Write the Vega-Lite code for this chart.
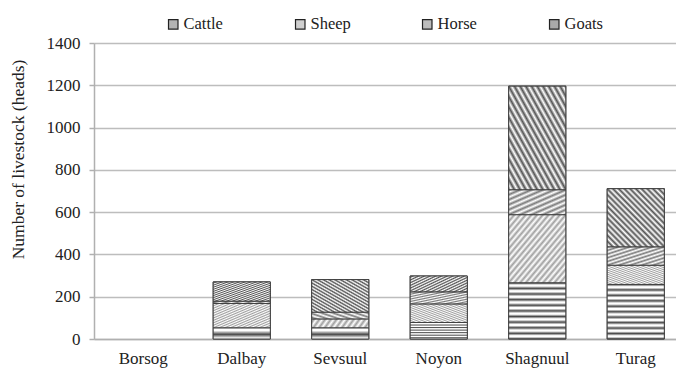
{
  "$schema": "https://vega.github.io/schema/vega-lite/v6.json",
  "width": 582,
  "height": 296,
  "autosize": "none",
  "padding": {"left": 94, "top": 43, "right": 0, "bottom": 32},
  "background": "white",
  "data": {
    "values": [
      {"village": "Dalbay", "animal": "Cattle", "heads": 53},
      {"village": "Dalbay", "animal": "Sheep", "heads": 115},
      {"village": "Dalbay", "animal": "Horse", "heads": 11},
      {"village": "Dalbay", "animal": "Goats", "heads": 91},
      {"village": "Sevsuul", "animal": "Cattle", "heads": 53},
      {"village": "Sevsuul", "animal": "Sheep", "heads": 42},
      {"village": "Sevsuul", "animal": "Horse", "heads": 32},
      {"village": "Sevsuul", "animal": "Goats", "heads": 154},
      {"village": "Noyon", "animal": "Cattle", "heads": 78},
      {"village": "Noyon", "animal": "Sheep", "heads": 88},
      {"village": "Noyon", "animal": "Horse", "heads": 57},
      {"village": "Noyon", "animal": "Goats", "heads": 75},
      {"village": "Shagnuul", "animal": "Cattle", "heads": 266},
      {"village": "Shagnuul", "animal": "Sheep", "heads": 322},
      {"village": "Shagnuul", "animal": "Horse", "heads": 118},
      {"village": "Shagnuul", "animal": "Goats", "heads": 490},
      {"village": "Turag", "animal": "Cattle", "heads": 258},
      {"village": "Turag", "animal": "Sheep", "heads": 91},
      {"village": "Turag", "animal": "Horse", "heads": 87},
      {"village": "Turag", "animal": "Goats", "heads": 275}
    ]
  },
  "transform": [
    {"calculate": "indexof(['Cattle','Sheep','Horse','Goats'], datum.animal)", "as": "stackRank"}
  ],
  "encoding": {
    "x": {
      "field": "village",
      "type": "nominal",
      "scale": {
        "domain": ["Borsog", "Dalbay", "Sevsuul", "Noyon", "Shagnuul", "Turag"],
        "range": [0, 591],
        "paddingInner": 0.42,
        "paddingOuter": 0.21
      },
      "axis": {
        "title": null,
        "labelAngle": 0,
        "ticks": false,
        "labelPadding": 11,
        "labelFont": "Liberation Serif",
        "labelFontSize": 17,
        "labelColor": "#222222",
        "domainColor": "#b0b0b0",
        "domainWidth": 1.5,
        "grid": false
      }
    },
    "y": {
      "field": "heads",
      "type": "quantitative",
      "aggregate": "sum",
      "stack": "zero",
      "scale": {"domain": [0, 1400], "nice": false},
      "axis": {
        "title": "Number of livestock (heads)",
        "values": [0, 200, 400, 600, 800, 1000, 1200, 1400],
        "format": "d",
        "titleFont": "Liberation Serif",
        "titleFontSize": 17.5,
        "titleFontWeight": "normal",
        "titleColor": "#222222",
        "titleAngle": 270,
        "titleBaseline": "bottom",
        "titleX": -67,
        "titleY": 116,
        "labelFont": "Liberation Serif",
        "labelFontSize": 17,
        "labelColor": "#222222",
        "labelPadding": 9,
        "tickSize": 5,
        "tickColor": "#b0b0b0",
        "tickWidth": 1.5,
        "domainColor": "#b0b0b0",
        "domainWidth": 1.5,
        "gridColor": "#bdbdbd",
        "gridWidth": 1.5
      }
    },
    "order": {"field": "stackRank", "type": "quantitative"}
  },
  "layer": [
    {
      "mark": {"type": "bar", "stroke": "#404040", "strokeWidth": 1},
      "encoding": {
        "color": {
          "field": "animal",
          "type": "nominal",
          "scale": {
            "domain": ["Cattle", "Sheep", "Horse", "Goats"],
            "range": ["#b4b4b4", "#cfcfcf", "#bcbcbc", "#a9a9a9"]
          },
          "legend": {
            "title": null,
            "orient": "none",
            "legendX": 71,
            "legendY": -27,
            "direction": "horizontal",
            "columns": 4,
            "gridAlign": "all",
            "columnPadding": 68,
            "symbolType": "square",
            "symbolSize": 90,
            "symbolStrokeColor": "#222222",
            "symbolStrokeWidth": 1.2,
            "labelOffset": 2,
            "labelFont": "Liberation Serif",
            "labelFontSize": 16.5,
            "labelColor": "#222222"
          }
        }
      }
    },
    {
      "mark": {"type": "bar", "stroke": "#404040", "strokeWidth": 1},
      "encoding": {
        "detail": {"field": "animal", "type": "nominal"},
        "fill": {
          "condition": [
            {
              "test": "datum.animal === 'Sheep'",
              "value": {
                "gradient": "linear", "x1": 0, "y1": 0, "x2": 1, "y2": 1,
                "stops": [
                  {"offset": 0, "color": "#9f9f9f"}, {"offset": 0.025, "color": "#ffffff"},
                  {"offset": 0.05, "color": "#9f9f9f"}, {"offset": 0.075, "color": "#ffffff"},
                  {"offset": 0.1, "color": "#9f9f9f"}, {"offset": 0.125, "color": "#ffffff"},
                  {"offset": 0.15, "color": "#9f9f9f"}, {"offset": 0.175, "color": "#ffffff"},
                  {"offset": 0.2, "color": "#9f9f9f"}, {"offset": 0.225, "color": "#ffffff"},
                  {"offset": 0.25, "color": "#9f9f9f"}, {"offset": 0.275, "color": "#ffffff"},
                  {"offset": 0.3, "color": "#9f9f9f"}, {"offset": 0.325, "color": "#ffffff"},
                  {"offset": 0.35, "color": "#9f9f9f"}, {"offset": 0.375, "color": "#ffffff"},
                  {"offset": 0.4, "color": "#9f9f9f"}, {"offset": 0.425, "color": "#ffffff"},
                  {"offset": 0.45, "color": "#9f9f9f"}, {"offset": 0.475, "color": "#ffffff"},
                  {"offset": 0.5, "color": "#9f9f9f"}, {"offset": 0.525, "color": "#ffffff"},
                  {"offset": 0.55, "color": "#9f9f9f"}, {"offset": 0.575, "color": "#ffffff"},
                  {"offset": 0.6, "color": "#9f9f9f"}, {"offset": 0.625, "color": "#ffffff"},
                  {"offset": 0.65, "color": "#9f9f9f"}, {"offset": 0.675, "color": "#ffffff"},
                  {"offset": 0.7, "color": "#9f9f9f"}, {"offset": 0.725, "color": "#ffffff"},
                  {"offset": 0.75, "color": "#9f9f9f"}, {"offset": 0.775, "color": "#ffffff"},
                  {"offset": 0.8, "color": "#9f9f9f"}, {"offset": 0.825, "color": "#ffffff"},
                  {"offset": 0.85, "color": "#9f9f9f"}, {"offset": 0.875, "color": "#ffffff"},
                  {"offset": 0.9, "color": "#9f9f9f"}, {"offset": 0.925, "color": "#ffffff"},
                  {"offset": 0.95, "color": "#9f9f9f"}, {"offset": 0.975, "color": "#ffffff"},
                  {"offset": 1, "color": "#9f9f9f"}
                ]
              }
            },
            {
              "test": "datum.animal === 'Goats'",
              "value": {
                "gradient": "linear", "x1": 0, "y1": 1, "x2": 1, "y2": 0,
                "stops": [
                  {"offset": 0, "color": "#535353"}, {"offset": 0.025, "color": "#ffffff"},
                  {"offset": 0.05, "color": "#535353"}, {"offset": 0.075, "color": "#ffffff"},
                  {"offset": 0.1, "color": "#535353"}, {"offset": 0.125, "color": "#ffffff"},
                  {"offset": 0.15, "color": "#535353"}, {"offset": 0.175, "color": "#ffffff"},
                  {"offset": 0.2, "color": "#535353"}, {"offset": 0.225, "color": "#ffffff"},
                  {"offset": 0.25, "color": "#535353"}, {"offset": 0.275, "color": "#ffffff"},
                  {"offset": 0.3, "color": "#535353"}, {"offset": 0.325, "color": "#ffffff"},
                  {"offset": 0.35, "color": "#535353"}, {"offset": 0.375, "color": "#ffffff"},
                  {"offset": 0.4, "color": "#535353"}, {"offset": 0.425, "color": "#ffffff"},
                  {"offset": 0.45, "color": "#535353"}, {"offset": 0.475, "color": "#ffffff"},
                  {"offset": 0.5, "color": "#535353"}, {"offset": 0.525, "color": "#ffffff"},
                  {"offset": 0.55, "color": "#535353"}, {"offset": 0.575, "color": "#ffffff"},
                  {"offset": 0.6, "color": "#535353"}, {"offset": 0.625, "color": "#ffffff"},
                  {"offset": 0.65, "color": "#535353"}, {"offset": 0.675, "color": "#ffffff"},
                  {"offset": 0.7, "color": "#535353"}, {"offset": 0.725, "color": "#ffffff"},
                  {"offset": 0.75, "color": "#535353"}, {"offset": 0.775, "color": "#ffffff"},
                  {"offset": 0.8, "color": "#535353"}, {"offset": 0.825, "color": "#ffffff"},
                  {"offset": 0.85, "color": "#535353"}, {"offset": 0.875, "color": "#ffffff"},
                  {"offset": 0.9, "color": "#535353"}, {"offset": 0.925, "color": "#ffffff"},
                  {"offset": 0.95, "color": "#535353"}, {"offset": 0.975, "color": "#ffffff"},
                  {"offset": 1, "color": "#535353"}
                ]
              }
            },
            {
              "test": "datum.animal === 'Horse'",
              "value": {
                "gradient": "linear", "x1": 0, "y1": 0, "x2": 1, "y2": 1,
                "stops": [
                  {"offset": 0, "color": "#7a7a7a"}, {"offset": 0.05, "color": "#ffffff"},
                  {"offset": 0.1, "color": "#7a7a7a"}, {"offset": 0.15, "color": "#ffffff"},
                  {"offset": 0.2, "color": "#7a7a7a"}, {"offset": 0.25, "color": "#ffffff"},
                  {"offset": 0.3, "color": "#7a7a7a"}, {"offset": 0.35, "color": "#ffffff"},
                  {"offset": 0.4, "color": "#7a7a7a"}, {"offset": 0.45, "color": "#ffffff"},
                  {"offset": 0.5, "color": "#7a7a7a"}, {"offset": 0.55, "color": "#ffffff"},
                  {"offset": 0.6, "color": "#7a7a7a"}, {"offset": 0.65, "color": "#ffffff"},
                  {"offset": 0.7, "color": "#7a7a7a"}, {"offset": 0.75, "color": "#ffffff"},
                  {"offset": 0.8, "color": "#7a7a7a"}, {"offset": 0.85, "color": "#ffffff"},
                  {"offset": 0.9, "color": "#7a7a7a"}, {"offset": 0.95, "color": "#ffffff"},
                  {"offset": 1, "color": "#7a7a7a"}
                ]
              }
            }
          ],
          "value": {
            "gradient": "linear", "x1": 0, "y1": 1, "x2": 0, "y2": 0,
            "stops": [
              {"offset": 0, "color": "#4a4a4a"}, {"offset": 0.04, "color": "#ffffff"}, {"offset": 0.06, "color": "#ffffff"},
              {"offset": 0.1, "color": "#4a4a4a"}, {"offset": 0.14, "color": "#ffffff"}, {"offset": 0.16, "color": "#ffffff"},
              {"offset": 0.2, "color": "#4a4a4a"}, {"offset": 0.24, "color": "#ffffff"}, {"offset": 0.26, "color": "#ffffff"},
              {"offset": 0.3, "color": "#4a4a4a"}, {"offset": 0.34, "color": "#ffffff"}, {"offset": 0.36, "color": "#ffffff"},
              {"offset": 0.4, "color": "#4a4a4a"}, {"offset": 0.44, "color": "#ffffff"}, {"offset": 0.46, "color": "#ffffff"},
              {"offset": 0.5, "color": "#4a4a4a"}, {"offset": 0.54, "color": "#ffffff"}, {"offset": 0.56, "color": "#ffffff"},
              {"offset": 0.6, "color": "#4a4a4a"}, {"offset": 0.64, "color": "#ffffff"}, {"offset": 0.66, "color": "#ffffff"},
              {"offset": 0.7, "color": "#4a4a4a"}, {"offset": 0.74, "color": "#ffffff"}, {"offset": 0.76, "color": "#ffffff"},
              {"offset": 0.8, "color": "#4a4a4a"}, {"offset": 0.84, "color": "#ffffff"}, {"offset": 0.86, "color": "#ffffff"},
              {"offset": 0.9, "color": "#4a4a4a"}, {"offset": 0.94, "color": "#ffffff"}, {"offset": 0.96, "color": "#ffffff"},
              {"offset": 1, "color": "#4a4a4a"}
            ]
          }
        }
      }
    }
  ],
  "config": {
    "view": {"stroke": null}
  }
}
